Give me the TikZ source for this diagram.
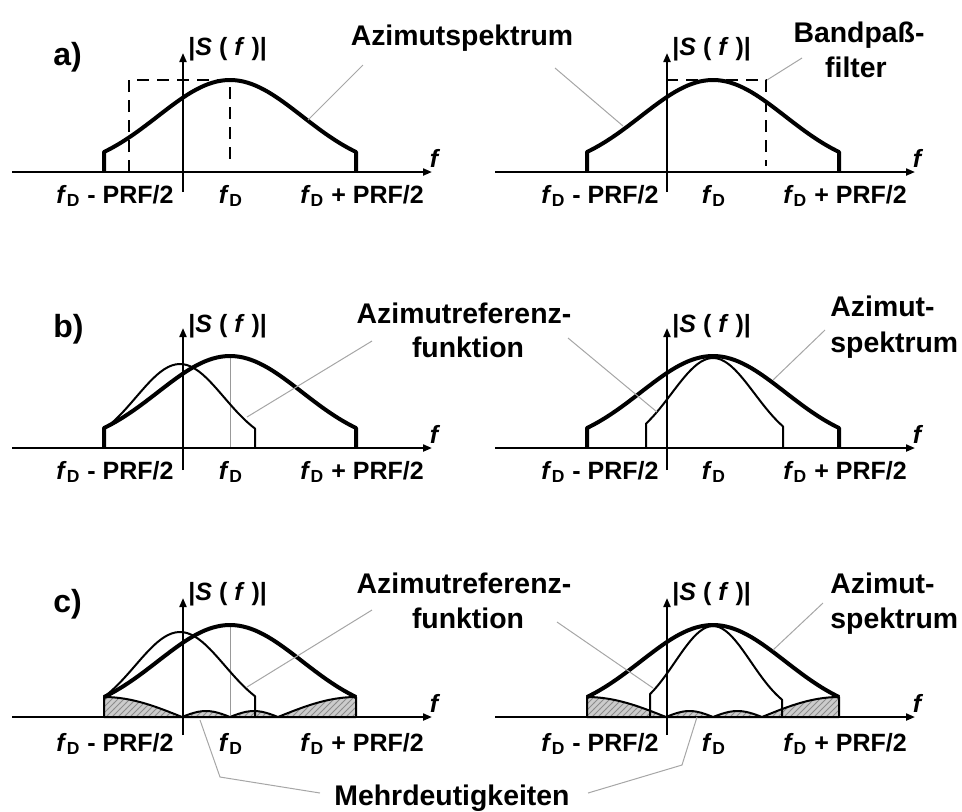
\documentclass[tikz,border=0pt]{standalone}
\usepackage{fontspec}
\setmainfont{Liberation Sans}
\usetikzlibrary{arrows.meta,patterns}

\begin{document}
\begin{tikzpicture}[
    x=0.5pt, y=0.5pt,
    axis/.style={line width=1pt, -{Triangle[length=4.5pt, width=3.5pt]}},
    spec/.style={line width=2pt, line join=round},
    reffun/.style={line width=1pt, line join=round},
    filterbox/.style={line width=1pt, dash pattern=on 6pt off 4pt},
    guide/.style={gray!80, line width=0.4pt},
    leader/.style={gray!70, line width=0.5pt},
    ambig/.style={fill=gray!40, postaction={pattern=north east lines, pattern color=gray!90},
        postaction={draw, line width=1pt, line join=round}},
    label/.style={font=\fontsize{14.2}{17.5}\selectfont\bfseries, inner sep=0pt, anchor=base},
    tag/.style={font=\fontsize{16}{19}\selectfont\bfseries, inner sep=0pt, anchor=base west},
    tick/.style={font=\fontsize{12.5}{15}\selectfont\bfseries, inner sep=0pt, anchor=base}
]
    \useasboundingbox (0,0) rectangle (962,-811);

    % a) links
    \begin{scope}[shift={(230,-172)}]
        \draw[filterbox] (-101,0) -- (-101,92) -- (0,92) -- (0,6);
        \draw[spec] (-126,0) -- (-126,20) -- plot[domain=-126:126, samples=61] (\x,{92*exp(-(\x/102)*(\x/102))}) -- (126,0);
        \draw[axis] (-218,0) -- (202,0);
        \draw[axis] (-47,-20) -- (-47,119);
        \node[tick, anchor=base west] (aLs) at (-42,117) {|\textit{S} ( \textit{f} )|};
        \node[tick] (aLf) at (205,5) {\textit{f}};
        \node[tick] (aLlo) at (-115,-31) {\textit{f}\textsubscript{D} - PRF/2};
        \node[tick] (aLfd) at (1,-31) {\textit{f}\textsubscript{D}};
        \node[tick] (aLhi) at (132,-31) {\textit{f}\textsubscript{D} + PRF/2};
    \end{scope}

    % a) rechts
    \begin{scope}[shift={(713,-172)}]
        \draw[filterbox] (-47,92) -- (53,92) -- (53,6);
        \draw[spec] (-126,0) -- (-126,20) -- plot[domain=-126:126, samples=61] (\x,{92*exp(-(\x/102)*(\x/102))}) -- (126,0);
        \draw[axis] (-218,0) -- (202,0);
        \draw[axis] (-46,-20) -- (-46,119);
        \node[tick, anchor=base west] (aRs) at (-41,117) {|\textit{S} ( \textit{f} )|};
        \node[tick] (aRf) at (205,5) {\textit{f}};
        \node[tick] (aRlo) at (-113,-31) {\textit{f}\textsubscript{D} - PRF/2};
        \node[tick] (aRfd) at (1,-31) {\textit{f}\textsubscript{D}};
        \node[tick] (aRhi) at (132,-31) {\textit{f}\textsubscript{D} + PRF/2};
    \end{scope}

    % b) links
    \begin{scope}[shift={(230,-448)}]
        \draw[guide] (0,0) -- (0,92);
        \draw[spec] (-126,0) -- (-126,20) -- plot[domain=-126:126, samples=61] (\x,{92*exp(-(\x/102)*(\x/102))}) -- (126,0);
        \draw[reffun] plot[domain=-126:25, samples=41] (\x,{84*exp(-((\x+50)/62)*((\x+50)/62))}) -- (25,0);
        \draw[axis] (-218,0) -- (202,0);
        \draw[axis] (-47,-22) -- (-47,120);
        \node[tick, anchor=base west] (bLs) at (-42,116) {|\textit{S} ( \textit{f} )|};
        \node[tick] (bLf) at (205,5) {\textit{f}};
        \node[tick] (bLlo) at (-115,-31) {\textit{f}\textsubscript{D} - PRF/2};
        \node[tick] (bLfd) at (1,-31) {\textit{f}\textsubscript{D}};
        \node[tick] (bLhi) at (132,-31) {\textit{f}\textsubscript{D} + PRF/2};
    \end{scope}

    % b) rechts
    \begin{scope}[shift={(713,-448)}]
        \draw[spec] (-126,0) -- (-126,20) -- plot[domain=-126:126, samples=61] (\x,{92*exp(-(\x/102)*(\x/102))}) -- (126,0);
        \draw[reffun] (-67,0) -- plot[domain=-67:70, samples=41] (\x,{90*exp(-(\x/58.6)*(\x/58.6))}) -- (70,0);
        \draw[axis] (-218,0) -- (202,0);
        \draw[axis] (-46,-22) -- (-46,120);
        \node[tick, anchor=base west] (bRs) at (-41,116) {|\textit{S} ( \textit{f} )|};
        \node[tick] (bRf) at (205,5) {\textit{f}};
        \node[tick] (bRlo) at (-113,-31) {\textit{f}\textsubscript{D} - PRF/2};
        \node[tick] (bRfd) at (1,-31) {\textit{f}\textsubscript{D}};
        \node[tick] (bRhi) at (132,-31) {\textit{f}\textsubscript{D} + PRF/2};
    \end{scope}

    % c) links
    \begin{scope}[shift={(230,-717)}]
        \path[ambig] (-126,0) -- (-126,20) -- plot[domain=-126:-48, samples=21] (\x,{20*cos(90*(\x+126)/78)})
            -- plot[domain=-48:0, samples=13] (\x,{6*sin(180*(\x+48)/48)})
            -- plot[domain=0:48, samples=13] (\x,{6*sin(180*\x/48)})
            -- plot[domain=48:126, samples=21] (\x,{20*cos(90*(126-\x)/78)}) -- (126,0) -- cycle;
        \draw[guide] (0,0) -- (0,92);
        \draw[spec] plot[domain=-126:126, samples=61] (\x,{92*exp(-(\x/102)*(\x/102))});
        \draw[reffun] plot[domain=-126:25, samples=41] (\x,{85*exp(-((\x+50)/63.2)*((\x+50)/63.2))}) -- (25,0);
        \draw[axis] (-218,0) -- (202,0);
        \draw[axis] (-47,-18) -- (-47,119);
        \node[tick, anchor=base west] (cLs) at (-42,117) {|\textit{S} ( \textit{f} )|};
        \node[tick] (cLf) at (205,5) {\textit{f}};
        \node[tick] (cLlo) at (-115,-34) {\textit{f}\textsubscript{D} - PRF/2};
        \node[tick] (cLfd) at (1,-34) {\textit{f}\textsubscript{D}};
        \node[tick] (cLhi) at (132,-34) {\textit{f}\textsubscript{D} + PRF/2};
    \end{scope}

    % c) rechts
    \begin{scope}[shift={(713,-717)}]
        \path[ambig] (-126,0) -- (-126,20) -- plot[domain=-126:-47, samples=21] (\x,{20*cos(90*(\x+126)/79)})
            -- plot[domain=-47:0, samples=13] (\x,{6*sin(180*(\x+47)/47)})
            -- plot[domain=0:49, samples=13] (\x,{6*sin(180*\x/49)})
            -- plot[domain=49:126, samples=21] (\x,{20*cos(90*(126-\x)/77)}) -- (126,0) -- cycle;
        \draw[spec] plot[domain=-126:126, samples=61] (\x,{92*exp(-(\x/102)*(\x/102))});
        \draw[reffun] (-63,0) -- plot[domain=-63:69, samples=41] (\x,{91*exp(-(\x/53.6)*(\x/53.6))}) -- (69,0);
        \draw[axis] (-218,0) -- (202,0);
        \draw[axis] (-46,-18) -- (-46,119);
        \node[tick, anchor=base west] (cRs) at (-41,117) {|\textit{S} ( \textit{f} )|};
        \node[tick] (cRf) at (205,5) {\textit{f}};
        \node[tick] (cRlo) at (-113,-34) {\textit{f}\textsubscript{D} - PRF/2};
        \node[tick] (cRfd) at (1,-34) {\textit{f}\textsubscript{D}};
        \node[tick] (cRhi) at (132,-34) {\textit{f}\textsubscript{D} + PRF/2};
    \end{scope}

    \node[tag] (tagA) at (53,-65) {a)};
    \node[tag] (tagB) at (53,-337) {b)};
    \node[tag] (tagC) at (53,-612) {c)};

    \node[label] (specA) at (462,-45) {Azimutspektrum};
    \node[label] (bandA1) at (859,-42) {Bandpaß-};
    \node[label] (bandA2) at (856,-77) {filter};
    \node[label] (refB1) at (464,-323) {Azimutreferenz-};
    \node[label] (refB2) at (468,-357) {funktion};
    \node[label, anchor=base west] (specB1) at (830,-316) {Azimut-};
    \node[label, anchor=base west] (specB2) at (830,-352) {spektrum};
    \node[label] (refC1) at (464,-593) {Azimutreferenz-};
    \node[label] (refC2) at (468,-628) {funktion};
    \node[label, anchor=base west] (specC1) at (830,-593) {Azimut-};
    \node[label, anchor=base west] (specC2) at (830,-628) {spektrum};
    \node[label] (mehr) at (452,-805) {Mehrdeutigkeiten};

    \coordinate (specAl) at (363,-65);
    \coordinate (specAr) at (555,-68);
    \coordinate (bandAs) at (802,-58);
    \coordinate (refBl) at (372,-341);
    \coordinate (refBr) at (568,-338);
    \coordinate (specBs) at (825,-330);
    \coordinate (refCl) at (372,-610);
    \coordinate (refCr) at (557,-622);
    \coordinate (specCs) at (823,-603);
    \coordinate (mehrl) at (320,-793);
    \coordinate (mehrr) at (588,-793);
    \coordinate (mehrlk) at (220,-777);
    \coordinate (mehrrk) at (682,-765);

    \coordinate (aLpk) at (308,-120);
    \coordinate (aRpk) at (623,-126);
    \coordinate (aRbp) at (767,-80);
    \coordinate (bLref) at (247,-417);
    \coordinate (bRref) at (657,-412);
    \coordinate (bRspec) at (773,-380);
    \coordinate (cLref) at (247,-687);
    \coordinate (cRref) at (653,-688);
    \coordinate (cRspec) at (773,-650);
    \coordinate (cLamb) at (200,-720);
    \coordinate (cRamb) at (697,-717);

    \draw[leader] (specAl) -- (aLpk);
    \draw[leader] (specAr) -- (aRpk);
    \draw[leader] (bandAs) -- (aRbp);
    \draw[leader] (refBl) -- (bLref);
    \draw[leader] (refBr) -- (bRref);
    \draw[leader] (specBs) -- (bRspec);
    \draw[leader] (refCl) -- (cLref);
    \draw[leader] (refCr) -- (cRref);
    \draw[leader] (specCs) -- (cRspec);
    \draw[leader] (mehrl) -- (mehrlk) -- (cLamb);
    \draw[leader] (mehrr) -- (mehrrk) -- (cRamb);
\end{tikzpicture}
\end{document}
